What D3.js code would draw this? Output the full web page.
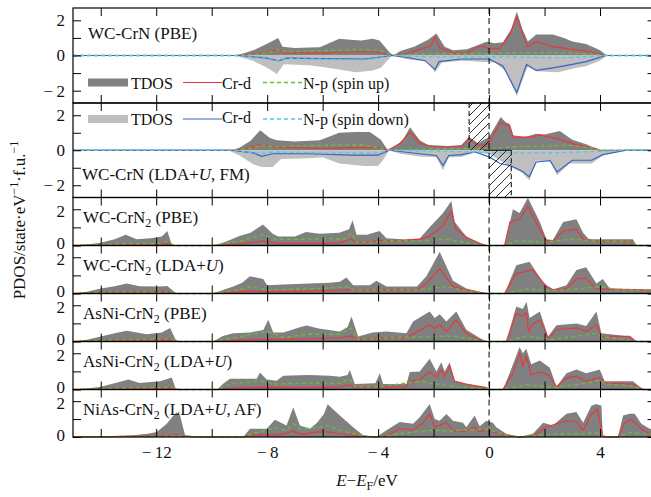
<!DOCTYPE html>
<html>
<head>
<meta charset="utf-8">
<script src="https://cdn.jsdelivr.net/npm/d3@7"></script>
<style>
  body { margin: 0; background: #fff; }
  text { font-family: "Liberation Serif", "Times New Roman", serif; fill: #111; }
</style>
</head>
<body>
<svg id="chart" width="651" height="497"></svg>
<script>
// ---- data: [E (eV), PDOS] ----
// WC-CrN (PBE)
const p1TdosUp = [[-15,0],[-9.2,0],[-8.9,0.1],[-8.5,0.3],[-8.0,0.67],[-7.6,1.0],[-7.45,0.5],[-7,0.42],[-6.5,0.45],[-6.1,0.47],[-5.4,0.95],[-5.0,0.9],[-4.6,0.85],[-4.2,0.95],[-3.95,0.85],[-3.6,0.2],[-3.45,0],[-3.2,0.25],[-2.7,0.5],[-2.2,0.9],[-1.9,1.25],[-1.6,0.5],[-1.3,0.3],[-0.8,0.35],[-0.3,0.65],[-0.1,0.78],[0.2,0.7],[0.5,0.75],[0.8,1.5],[1.0,2.5],[1.2,1.5],[1.4,0.8],[1.7,1.2],[2.3,1.2],[2.7,1.0],[3.0,0.8],[3.5,0.65],[4.0,0.3],[4.25,0],[6,0]];
const p1CrUp = [[-15,0],[-9,0],[-8.5,0.1],[-8,0.2],[-7.6,0.33],[-7.4,0.15],[-6,0.15],[-5,0.2],[-4,0.2],[-3.5,0],[-3,0.1],[-2.5,0.35],[-2.1,0.55],[-1.95,1.05],[-1.8,0.45],[-1.3,0.15],[-0.8,0.15],[-0.3,0.55],[0,0.4],[0.4,0.4],[0.75,1.2],[1.0,2.2],[1.3,0.85],[1.4,0.5],[1.7,0.8],[2.3,0.5],[3,0.35],[3.7,0.2],[4.2,0],[6,0]];
const p1NpUp = [[-15,0],[-9,0],[-8,0.15],[-7.6,0.33],[-7.3,0.2],[-6.5,0.25],[-5.5,0.3],[-4.5,0.35],[-4,0.3],[-3.5,0.02],[-3,0.05],[-2,0.1],[0,0.1],[1,0.15],[2,0.15],[3,0.15],[4,0.05],[4.2,0],[6,0]];
const p1TdosDn = [[-15,0],[-9.2,0],[-8.5,-0.3],[-8,-0.7],[-7.65,-1.05],[-7.4,-0.5],[-6.5,-0.55],[-6,-0.66],[-5.4,-0.8],[-4.8,-0.95],[-4.2,-0.85],[-3.9,-0.7],[-3.5,0],[-3,-0.2],[-2.2,-0.35],[-1.95,-0.95],[-1.7,-0.4],[-1,-0.3],[-0.3,-0.35],[0.2,-0.4],[0.6,-0.9],[1.0,-2.3],[1.3,-1.0],[1.4,-0.65],[1.7,-0.9],[2.5,-0.95],[3.0,-0.75],[3.5,-0.6],[4.0,-0.3],[4.25,0],[6,0]];
const p1CrDn = [[-15,0],[-9,0],[-8,-0.15],[-7.6,-0.3],[-7.3,-0.15],[-6,-0.18],[-4.5,-0.2],[-3.5,0],[-3,-0.1],[-2.3,-0.3],[-1.95,-0.8],[-1.8,-0.35],[-1,-0.2],[0,-0.2],[0.5,-0.6],[1.0,-2.1],[1.35,-0.5],[1.7,-0.85],[2.3,-0.7],[3,-0.5],[3.5,-0.35],[4.2,0],[6,0]];
const p1NpDn = [[-15,0],[-9,0],[-8,-0.12],[-7.6,-0.3],[-7.3,-0.18],[-6,-0.2],[-4.5,-0.25],[-3.5,0],[-2,-0.08],[0,-0.08],[2,-0.12],[3,-0.12],[4.2,0],[6,0]];

// WC-CrN (LDA+U, FM)
const p2TdosUp = [[-15,0],[-9.3,0],[-9,0.15],[-8.6,0.55],[-8.25,1.14],[-7.9,0.7],[-7.65,0.57],[-7,0.5],[-6.1,0.57],[-5.4,1.0],[-4.8,1.05],[-4.3,1.05],[-3.9,0.6],[-3.65,0],[-3.4,0.2],[-3.1,0.6],[-2.85,1.31],[-2.5,0.57],[-2.2,0.3],[-1.5,0.25],[-1.0,0.3],[-0.72,0.76],[-0.4,0.4],[0,0.76],[0.42,1.9],[0.6,1.6],[0.75,1.5],[0.87,0.86],[1.3,0.76],[1.7,0.95],[2.0,0.9],[2.55,1.1],[3.0,0.6],[3.5,0.35],[3.85,0.1],[4.0,0],[6,0]];
const p2CrUp = [[-15,0],[-9.2,0],[-8.6,0.15],[-8.25,0.34],[-7.8,0.2],[-7,0.15],[-6,0.1],[-5,0.15],[-4,0.15],[-3.65,0],[-3.2,0.4],[-2.85,1.05],[-2.5,0.4],[-2.0,0.2],[-1.0,0.2],[-0.72,0.7],[-0.4,0.29],[-0.1,0.3],[0,0.45],[0.42,1.6],[0.75,1.35],[0.87,0.75],[1.5,0.75],[1.84,0.86],[2.5,0.65],[3.0,0.38],[3.85,0.1],[4.0,0],[6,0]];
const p2NpUp = [[-15,0],[-9.2,0],[-8.5,0.15],[-8.2,0.3],[-7.8,0.2],[-6.5,0.25],[-5.5,0.3],[-4.5,0.3],[-3.65,0],[-2,0.08],[0,0.1],[1,0.2],[2,0.25],[3,0.28],[3.8,0.1],[4,0],[6,0]];
const p2TdosDn = [[-15,0],[-9.4,0],[-9,-0.3],[-8.5,-0.8],[-8.2,-0.95],[-7.8,-0.95],[-7.5,-0.5],[-6.5,-0.45],[-6.0,-0.4],[-5.4,-0.75],[-4.5,-0.9],[-4,-0.9],[-3.8,-0.5],[-3.6,0],[-3.2,-0.2],[-2.5,-0.35],[-1.9,-0.4],[-1.66,-1.14],[-1.45,-0.4],[-1.0,-0.38],[-0.6,-0.15],[0,-0.2],[0.3,-0.5],[0.8,-0.95],[1.2,-1.3],[1.45,-1.71],[1.7,-0.6],[2.2,-0.6],[2.45,-1.43],[2.9,-0.76],[3.7,-0.76],[4.1,-0.3],[4.95,0],[6,0]];
const p2CrDn = [[-15,0],[-9.3,0],[-8.5,-0.15],[-8.2,-0.35],[-7.8,-0.2],[-6.5,-0.2],[-5,-0.28],[-4,-0.28],[-3.6,0],[-2.5,-0.2],[-1.9,-0.3],[-1.66,-0.86],[-1.45,-0.3],[-1.0,-0.25],[-0.5,-0.1],[0,-0.38],[0.4,-0.76],[0.8,-0.9],[1.2,-1.2],[1.45,-1.52],[1.7,-0.67],[2.2,-0.6],[2.45,-1.24],[3.0,-0.57],[3.7,-0.57],[4.1,-0.25],[4.95,0],[6,0]];
const p2NpDn = [[-15,0],[-9.2,0],[-8.2,-0.2],[-7.8,-0.1],[-6,-0.15],[-4,-0.15],[-3.6,0],[-1,-0.08],[0,-0.15],[1,-0.15],[2,-0.15],[3,-0.12],[4.5,-0.03],[5,0],[6,0]];

// WC-CrN2 (PBE)
const p3Tdos = [[-15,0],[-14.5,0.05],[-14,0.15],[-13.5,0.35],[-13.1,0.6],[-12.7,0.35],[-12.2,0.4],[-11.8,0.5],[-11.6,0.8],[-11.45,0.1],[-11.35,0],[-9.95,0],[-9.6,0.15],[-9.3,0.33],[-9,0.52],[-8.6,0.7],[-8.15,1.16],[-7.8,0.65],[-7.6,0.5],[-7,0.5],[-6.6,0.75],[-6.1,0.65],[-5.4,0.7],[-5.05,0.9],[-4.92,1.4],[-4.78,0.6],[-4.4,0.6],[-3.95,0.8],[-3.7,0.4],[-3,0.33],[-2.5,0.38],[-2.15,1.0],[-1.66,1.8],[-1.36,2.45],[-1.24,1.3],[-0.82,0.5],[-0.4,0.15],[-0.1,0],[0.56,0],[0.86,2.0],[1.1,1.8],[1.4,2.63],[1.83,1.3],[2.07,0.35],[2.3,0.3],[2.67,1.3],[3.15,1.45],[3.39,0.7],[3.6,0.35],[4.3,0.35],[5.19,0.35],[5.3,0],[6,0]];
const p3Cr = [[-15,0],[-14,0.03],[-12,0.07],[-11.6,0.12],[-11.35,0],[-9.95,0],[-9,0.08],[-8.15,0.24],[-7.6,0.12],[-6,0.12],[-5.4,0.15],[-4.95,0.35],[-4.78,0.15],[-3.95,0.25],[-3,0.3],[-2.5,0.35],[-2.15,0.5],[-1.66,1.1],[-1.36,1.9],[-1.2,0.9],[-0.82,0.45],[-0.3,0.1],[-0.1,0],[0.56,0],[0.75,1.3],[0.98,1.4],[1.1,1.45],[1.4,2.17],[1.83,0.9],[2.07,0.25],[2.3,0.25],[2.67,0.8],[3.15,0.9],[3.39,0.35],[3.9,0.25],[5.19,0.2],[5.3,0],[6,0]];
const p3Np = [[-15,0],[-14,0.05],[-12,0.1],[-11.6,0.2],[-11.35,0],[-9.95,0],[-9,0.24],[-8.15,0.6],[-7.66,0.33],[-6.5,0.35],[-5.74,0.38],[-5.2,0.35],[-4.95,0.7],[-4.78,0.15],[-3.7,0.25],[-2.5,0.25],[-1.55,0.35],[-0.5,0.08],[-0.1,0],[0.56,0],[1,0.25],[2,0.2],[3,0.35],[3.9,0.25],[5.19,0.2],[5.3,0],[6,0]];

// WC-CrN2 (LDA+U)
const p4Tdos = [[-15,0],[-14.5,0.1],[-14,0.28],[-13.5,0.4],[-13.06,0.55],[-12.6,0.4],[-11.9,0.38],[-11.6,0.42],[-11.35,0.1],[-11.26,0],[-9.94,0],[-9.6,0.2],[-9.22,0.38],[-8.9,0.6],[-8.62,0.95],[-8.14,0.8],[-8.0,0.45],[-7.4,0.5],[-6.5,0.55],[-5.74,0.6],[-5.38,0.65],[-5.14,0.88],[-4.9,0.45],[-4.3,0.45],[-4.06,0.7],[-3.7,0.38],[-2.6,0.38],[-2.26,0.95],[-1.78,2.3],[-1.3,0.7],[-0.82,0.28],[-0.1,0],[0.56,0],[0.98,1.56],[1.46,1.75],[1.95,0.6],[2.3,0.22],[2.79,0.45],[3.15,1.3],[3.5,1.45],[3.87,0.55],[4.1,0.8],[4.35,0.28],[5.79,0.2],[6,0.2]];
const p4Cr = [[-15,0],[-14,0.05],[-11.6,0.1],[-11.26,0],[-9.94,0],[-9,0.1],[-8.62,0.15],[-8,0.1],[-6,0.15],[-5,0.2],[-2.6,0.2],[-2.26,0.55],[-1.78,1.38],[-1.3,0.38],[-0.82,0.2],[-0.1,0],[0.56,0],[0.98,1.1],[1.58,1.3],[2.07,0.38],[2.3,0.22],[2.79,0.25],[3.15,0.8],[3.5,0.85],[3.87,0.25],[5.79,0.2],[6,0.2]];
const p4Np = [[-15,0],[-14,0.05],[-11.6,0.08],[-11.26,0],[-9.94,0],[-9.0,0.2],[-8.62,0.38],[-8.0,0.2],[-6,0.28],[-5.38,0.35],[-5.14,0.38],[-4.9,0.2],[-2.6,0.2],[-1.55,0.38],[-0.82,0.15],[-0.1,0],[0.56,0],[1.35,0.25],[2.3,0.15],[3.5,0.3],[4.1,0.38],[4.6,0.2],[6,0.2]];

// AsNi-CrN2 (PBE)
const p5Tdos = [[-15,0],[-14.5,0.1],[-14,0.28],[-13.5,0.45],[-13.06,0.6],[-12.34,0.4],[-11.8,0.5],[-11.5,0.74],[-11.3,0.1],[-11.2,0],[-9.94,0],[-9.6,0.3],[-9.22,0.46],[-8.6,0.5],[-8.14,0.64],[-7.96,1.2],[-7.78,0.5],[-7.42,0.5],[-6.82,0.78],[-6.58,0.88],[-6.1,0.7],[-5.38,0.55],[-5.1,0.8],[-4.96,1.38],[-4.72,0.27],[-4.2,0.5],[-3.7,0.55],[-2.98,0.45],[-2.74,1.1],[-2.14,1.66],[-1.96,1.3],[-1.78,1.5],[-1.54,1.1],[-1.18,1.66],[-0.82,0.65],[-0.34,0.2],[-0.1,0],[0.62,0],[0.98,1.93],[1.22,1.8],[1.35,2.2],[1.46,1.3],[1.83,1.65],[2.13,0.27],[2.43,0.9],[3.15,1.0],[3.5,0.85],[3.87,1.66],[4.05,0.45],[5.07,0.27],[5.3,0],[6,0]];
const p5Cr = [[-15,0],[-14,0.05],[-11.5,0.1],[-11.2,0],[-9.94,0],[-9,0.08],[-7.96,0.12],[-6.58,0.15],[-6,0.18],[-5.38,0.2],[-4.96,0.3],[-4.72,0.1],[-3.7,0.2],[-2.98,0.2],[-2.14,0.92],[-1.96,0.7],[-1.78,0.92],[-1.54,0.55],[-1.2,1.2],[-0.82,0.45],[-0.34,0.1],[-0.1,0],[0.62,0],[0.98,1.56],[1.16,1.4],[1.35,1.56],[1.42,0.55],[1.6,1.0],[1.83,1.2],[2.13,0.2],[2.43,0.65],[3.15,0.75],[3.5,0.55],[3.87,0.92],[4.05,0.28],[5.07,0.28],[5.3,0],[6,0]];
const p5Np = [[-15,0],[-14,0.05],[-11.5,0.15],[-11.2,0],[-9.94,0],[-9.2,0.2],[-7.96,0.55],[-7.4,0.2],[-6.58,0.4],[-6.1,0.4],[-5.38,0.4],[-4.96,0.74],[-4.72,0.1],[-3.7,0.2],[-1.3,0.3],[-0.3,0.05],[-0.1,0],[0.62,0],[1.35,0.3],[2.3,0.12],[3.87,0.45],[4.05,0.3],[5.3,0],[6,0]];

// AsNi-CrN2 (LDA+U)
const p6Tdos = [[-15,0],[-14.5,0.05],[-14,0.15],[-13.5,0.35],[-13.0,0.55],[-12.6,0.36],[-11.86,0.45],[-11.44,0.66],[-11.3,0.05],[-11.2,0],[-9.8,0],[-9.6,0.3],[-9.34,0.6],[-8.38,0.6],[-8.26,0.94],[-8.02,0.55],[-7.66,0.48],[-7.42,0.76],[-6.5,0.8],[-5.74,0.76],[-5.38,0.7],[-5.1,0.8],[-5.02,1.07],[-4.84,0.3],[-4.1,0.35],[-3.94,0.9],[-3.82,0.3],[-2.98,0.3],[-2.86,0.96],[-2.5,1.0],[-2.14,1.7],[-1.9,1.0],[-1.72,1.5],[-1.6,1.0],[-1.42,1.5],[-1.24,0.5],[-0.82,0.3],[-0.1,0.1],[0,0],[0.5,0],[0.74,0.9],[1.1,2.35],[1.22,2.0],[1.34,2.25],[1.52,1.4],[1.83,1.6],[2.19,1.2],[2.43,0.15],[2.79,0.9],[3.15,1.1],[3.5,0.9],[3.99,1.1],[4.17,0.45],[5.19,0.45],[5.55,0],[6,0]];
const p6Cr = [[-15,0],[-14,0.03],[-11.44,0.08],[-11.2,0],[-9.8,0],[-9.3,0.07],[-8.26,0.13],[-7,0.1],[-6,0.12],[-5.38,0.15],[-5.02,0.25],[-4.84,0.1],[-3.94,0.15],[-2.98,0.15],[-2.86,0.45],[-2.5,0.55],[-2.14,0.97],[-1.9,0.7],[-1.72,1.1],[-1.6,0.7],[-1.42,1.28],[-1.24,0.45],[-0.82,0.3],[-0.1,0.1],[0,0],[0.5,0],[0.86,0.9],[1.1,2.0],[1.22,1.28],[1.34,1.83],[1.52,0.8],[1.83,0.97],[2.19,0.75],[2.43,0.15],[2.79,0.64],[3.15,0.72],[3.5,0.45],[3.99,0.64],[4.17,0.35],[5.19,0.3],[5.55,0],[6,0]];
const p6Np = [[-15,0],[-14,0.04],[-11.44,0.12],[-11.2,0],[-9.8,0],[-9.34,0.3],[-8.26,0.48],[-7.66,0.3],[-6.5,0.35],[-5.38,0.35],[-5.02,0.6],[-4.84,0.15],[-3.94,0.15],[-2.5,0.46],[-2.14,0.35],[-1.2,0.15],[-0.1,0.05],[0,0],[0.5,0],[1.34,0.27],[2.3,0.1],[3.5,0.35],[3.99,0.53],[4.2,0.3],[5.19,0.2],[5.55,0],[6,0]];

// NiAs-CrN2 (LDA+U, AF)
const p7Tdos = [[-15,0],[-14,0.02],[-13.5,0.05],[-12.82,0.1],[-12.3,0.18],[-11.98,0.28],[-11.62,0.74],[-11.38,1.2],[-11.26,1.38],[-11.14,1.2],[-10.96,0.1],[-10.42,0],[-8.86,0],[-8.62,0.46],[-8.02,0.46],[-7.72,0.96],[-7.3,0.64],[-7.06,1.66],[-6.82,0.64],[-6.46,0.46],[-6.2,0.8],[-5.95,1.3],[-5.82,1.83],[-5.38,1.2],[-4.9,0.55],[-4.54,0.1],[-4.06,0],[-3.7,0.37],[-3.22,0.83],[-2.74,0.74],[-2.5,1.1],[-2.14,1.84],[-1.96,1.0],[-1.78,0.9],[-1.54,1.29],[-1.3,0.9],[-0.94,0.8],[-0.82,0.55],[-0.52,1.2],[-0.34,0.6],[-0.1,0.9],[0.14,0.8],[0.26,0.55],[0.62,0.18],[1.1,0],[1.58,0.18],[1.95,0.8],[2.3,0.64],[2.79,1.3],[3.15,1.4],[3.39,0.8],[3.69,1.75],[3.87,1.84],[4.05,1.75],[4.1,0.1],[4.29,0],[4.65,0],[4.83,1.2],[5.07,1.3],[5.25,1.3],[5.49,0.74],[5.79,0.46],[6,0.4]];
const p7Cr = [[-15,0],[-13,0.03],[-11.5,0.08],[-11.3,0.15],[-11,0.05],[-10.42,0],[-8.86,0],[-8.6,0.13],[-7.5,0.13],[-7.06,0.33],[-6.8,0.15],[-6.1,0.3],[-5.8,0.28],[-5.38,0.18],[-4.54,0.05],[-4.06,0],[-3.7,0.08],[-3.22,0.46],[-2.74,0.4],[-2.4,0.74],[-2.14,1.29],[-1.96,0.55],[-1.54,0.8],[-1.3,0.37],[-0.94,0.28],[-0.52,0.55],[-0.34,0.28],[-0.1,0.45],[0.14,0.28],[0.62,0.1],[1.1,0],[1.58,0.05],[2.07,0.55],[2.79,0.92],[3.15,0.85],[3.39,0.37],[3.66,1.2],[3.9,1.57],[4.1,0.05],[4.29,0],[4.65,0],[4.87,0.74],[5.1,1.0],[5.3,0.74],[5.55,0.37],[5.79,0.18],[6,0.15]];
const p7Np = [[-15,0],[-12,0.03],[-11.3,0.08],[-10.42,0],[-8.86,0],[-8.6,0.15],[-7.72,0.52],[-7.3,0.37],[-7.06,0.74],[-6.82,0.45],[-6.1,0.55],[-5.82,0.65],[-5.38,0.37],[-4.54,0.05],[-4.06,0],[-3.22,0.18],[-2.14,0.37],[-1.3,0.35],[-0.1,0.45],[0.62,0.1],[1.1,0],[2.3,0.15],[3.5,0.2],[3.87,0.25],[4.1,0.05],[4.29,0],[4.65,0],[5.07,0.25],[5.79,0.18],[6,0.15]];

// hatched windows in the LDA+U FM panel (eV)
const hatchUp = [-0.72, 0];
const hatchDn = [0, 0.8];

const xTicks = [-14, -12, -10, -8, -6, -4, -2, 0, 2, 4];
const xLabels = [-12, -8, -4, 0, 4];

// ---- layout ----
const svg = d3.select("#chart");
const left = 73, right = 655.5;
const edges = [8, 103, 197.5, 245.5, 293.5, 341.5, 389.5, 437];
const x = d3.scaleLinear().domain([-15, 6]).range([left, right]);

const col = { tdosUp: "#808080", tdosDn: "#bfbfbf", cr: "#e8383d", np: "#6cbc3a", crDn: "#3663c4", npDn: "#52c6e6" };

const panels = [
  { label: ["WC-CrN (PBE)"], lx: 88, ly: 39, spin: true, tu: p1TdosUp, cu: p1CrUp, nu: p1NpUp, td: p1TdosDn, cd: p1CrDn, nd: p1NpDn },
  { label: ["WC-CrN (LDA+", "*U", ", FM)"], lx: 82, ly: 180, spin: true, tu: p2TdosUp, cu: p2CrUp, nu: p2NpUp, td: p2TdosDn, cd: p2CrDn, nd: p2NpDn },
  { label: ["WC-CrN", "_2", " (PBE)"], tu: p3Tdos, cu: p3Cr, nu: p3Np },
  { label: ["WC-CrN", "_2", " (LDA+", "*U", ")"], tu: p4Tdos, cu: p4Cr, nu: p4Np },
  { label: ["AsNi-CrN", "_2", " (PBE)"], tu: p5Tdos, cu: p5Cr, nu: p5Np },
  { label: ["AsNi-CrN", "_2", " (LDA+", "*U", ")"], tu: p6Tdos, cu: p6Cr, nu: p6Np },
  { label: ["NiAs-CrN", "_2", " (LDA+", "*U", ", AF)"], tu: p7Tdos, cu: p7Cr, nu: p7Np }
];

// text with _sub, ^sup, *italic pieces
function rich(t, segs, small) {
  let shift = 0;
  segs.forEach(s => {
    const k = s[0];
    const ts = t.append("tspan");
    let target = 0;
    if (k === "_") { ts.text(s.slice(1)).attr("font-size", small); target = 4; }
    else if (k === "^") { ts.text(s.slice(1)).attr("font-size", small); target = -7; }
    else if (k === "*") { ts.text(s.slice(1)).attr("font-style", "italic"); }
    else ts.text(s);
    if (target !== shift) { ts.attr("dy", target - shift); shift = target; }
  });
}

const fmt = d => d < 0 ? "\u2212\u2009" + (-d) : String(d);

const hatch = svg.append("defs").append("pattern")
  .attr("id", "hatch").attr("patternUnits", "userSpaceOnUse")
  .attr("width", 9).attr("height", 9);
hatch.append("path").attr("d", "M0,9L9,0M-1,1L1,-1M8,10L10,8")
  .attr("stroke", "#000").attr("stroke-width", 0.8);

panels.forEach((p, i) => {
  const top = edges[i], bottom = edges[i + 1];
  const y = d3.scaleLinear().domain(p.spin ? [-2.7, 2.7] : [0, 2.65]).range([bottom, top]);
  const g = svg.append("g");
  const area = d3.area().x(d => x(d[0])).y0(y(0)).y1(d => y(d[1]));
  const line = d3.line().x(d => x(d[0])).y(d => y(d[1]));

  g.append("path").datum(p.tu).attr("d", area).attr("fill", col.tdosUp);
  if (p.spin) g.append("path").datum(p.td).attr("d", area).attr("fill", col.tdosDn);

  g.append("path").datum(p.cu).attr("d", line).attr("fill", "none").attr("stroke", col.cr).attr("stroke-width", 1.2);
  g.append("path").datum(p.nu).attr("d", line).attr("fill", "none").attr("stroke", col.np).attr("stroke-width", 1.3).attr("stroke-dasharray", "4,3");
  if (p.spin) {
    g.append("path").datum(p.cd).attr("d", line).attr("fill", "none").attr("stroke", col.crDn).attr("stroke-width", 1.2);
    g.append("path").datum(p.nd).attr("d", line).attr("fill", "none").attr("stroke", col.npDn).attr("stroke-width", 1.3).attr("stroke-dasharray", "4,3");
  }

  // Fermi level
  g.append("line").attr("x1", x(0)).attr("x2", x(0)).attr("y1", top).attr("y2", bottom)
    .attr("stroke", "#000").attr("stroke-width", 1).attr("stroke-dasharray", "6,4");

  if (i === 1) {
    g.append("rect").attr("x", x(hatchUp[0])).attr("y", top).attr("width", x(hatchUp[1]) - x(hatchUp[0])).attr("height", y(0) - top)
      .attr("fill", "url(#hatch)");
    g.append("line").attr("x1", x(hatchUp[0])).attr("x2", x(hatchUp[0])).attr("y1", top).attr("y2", y(0))
      .attr("stroke", "#000").attr("stroke-dasharray", "5,3");
    g.append("rect").attr("x", x(hatchDn[0])).attr("y", y(0)).attr("width", x(hatchDn[1]) - x(hatchDn[0])).attr("height", bottom - y(0))
      .attr("fill", "url(#hatch)");
    g.append("line").attr("x1", x(hatchDn[1])).attr("x2", x(hatchDn[1])).attr("y1", y(0)).attr("y2", bottom)
      .attr("stroke", "#000").attr("stroke-dasharray", "5,3");
    g.append("line").attr("x1", x(-0.2)).attr("x2", x(hatchDn[1])).attr("y1", y(0)).attr("y2", y(0))
      .attr("stroke", "#000").attr("stroke-width", 1);
  }

  // axes, ticks pointing inward
  const yt = p.spin ? [-2, -1, 0, 1, 2] : [0, 1, 2];
  const yl = p.spin ? [-2, 0, 2] : [0, 2];
  const ya = g.append("g").attr("transform", `translate(${left},0)`)
    .call(d3.axisLeft(y).tickValues(yt).tickSizeInner(-8).tickSizeOuter(0).tickPadding(8)
      .tickFormat(d => yl.includes(d) ? fmt(d) : ""));
  if (!p.spin) {
    // stacked 0 / 2 labels sit tight, as in the original
    ya.selectAll(".tick text").attr("dy", d => d === 0 ? "0.2em" : d === 2 ? "0.42em" : "0.32em");
  }
  g.append("g").attr("transform", `translate(${right},0)`)
    .call(d3.axisRight(y).tickValues(yt).tickSizeInner(-8).tickSizeOuter(0).tickFormat(""));
  g.append("g").attr("transform", `translate(0,${top})`)
    .call(d3.axisBottom(x).tickValues(xTicks).tickSizeInner(8).tickSizeOuter(0).tickFormat(""));
  g.append("g").attr("transform", `translate(0,${bottom})`)
    .call(d3.axisTop(x).tickValues(xTicks).tickSizeInner(8).tickSizeOuter(0).tickFormat(""));
  if (i === panels.length - 1) {
    g.append("g").attr("transform", `translate(0,${bottom})`)
      .call(d3.axisBottom(x).tickValues(xLabels).tickSize(0).tickPadding(9).tickFormat(fmt));
  }
  g.append("rect").attr("x", left).attr("y", top).attr("width", right - left).attr("height", bottom - top)
    .attr("fill", "none").attr("stroke", "#000").attr("stroke-width", 1.2);

  const lbl = g.append("text").attr("x", p.lx || 83).attr("y", p.ly || top + 25).attr("font-size", 17);
  rich(lbl, p.label, 12);
});

svg.selectAll(".tick text").attr("font-size", 17).attr("font-family", "Liberation Serif, serif").attr("fill", "#111");
svg.selectAll(".domain").remove();
svg.selectAll(".tick line").attr("stroke", "#000").attr("stroke-width", 1);

// legends
function legend(yc, fill, lc, dc, npText, crDy) {
  svg.append("rect").attr("x", 88).attr("y", yc - 4).attr("width", 40).attr("height", 8).attr("fill", fill);
  svg.append("text").attr("x", 131).attr("y", yc + 6).attr("font-size", 16).text("TDOS");
  svg.append("line").attr("x1", 183).attr("x2", 222).attr("y1", yc).attr("y2", yc).attr("stroke", lc).attr("stroke-width", 1.2);
  svg.append("text").attr("x", 222).attr("y", yc + 6 + crDy).attr("font-size", 16).text("Cr-d");
  svg.append("line").attr("x1", 263).attr("x2", 302).attr("y1", yc).attr("y2", yc).attr("stroke", dc).attr("stroke-width", 1.3).attr("stroke-dasharray", "4,3");
  svg.append("text").attr("x", 303).attr("y", yc + 6).attr("font-size", 16).text(npText);
}
legend(82.5, col.tdosUp, col.cr, col.np, "N-p (spin up)", 0);
legend(119, col.tdosDn, col.crDn, col.npDn, "N-p (spin down)", -2);

// axis titles
const yt = svg.append("text").attr("transform", "translate(25,220) rotate(-90)").attr("text-anchor", "middle").attr("font-size", 17);
rich(yt, ["PDOS/state\u00b7eV", "^\u22121", "\u00b7f.u.", "^\u22121"], 12);
const xt = svg.append("text").attr("x", 367).attr("y", 486).attr("text-anchor", "middle").attr("font-size", 17);
rich(xt, ["*E", "\u2212", "*E", "_F", "/eV"], 12);
</script>
</body>
</html>
